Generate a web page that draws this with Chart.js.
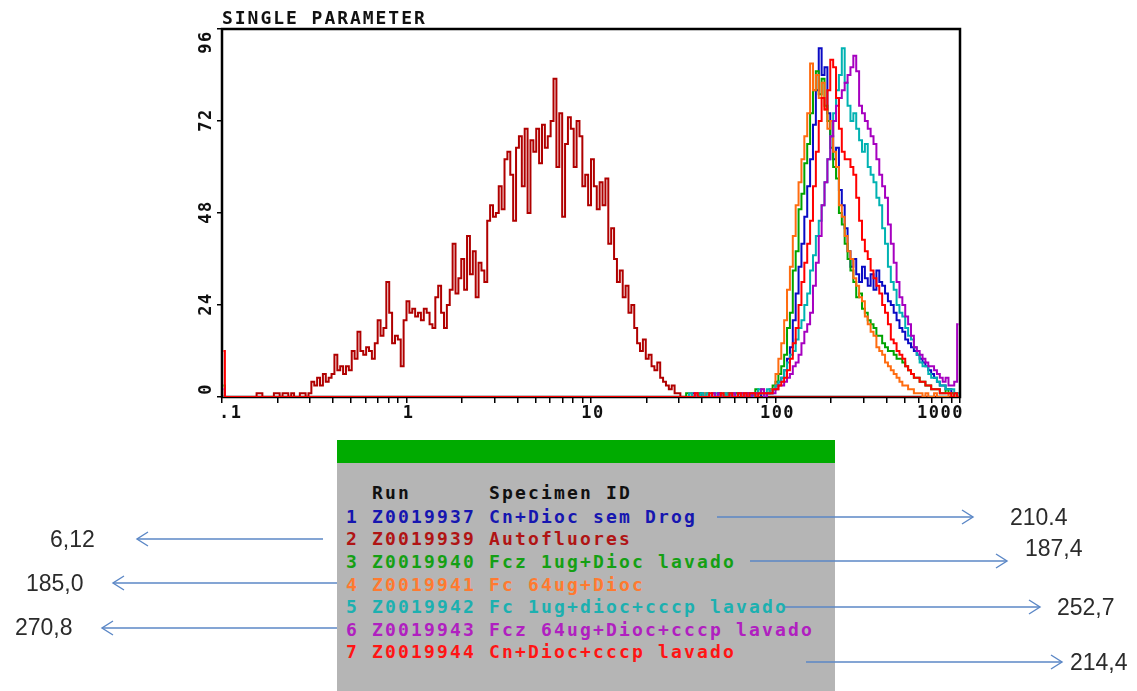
<!DOCTYPE html>
<html>
<head>
<meta charset="utf-8">
<title>Single parameter</title>
<script src="https://cdn.jsdelivr.net/npm/chart.js@4.4.1/dist/chart.umd.min.js"></script>
<style>
  body { margin: 0; background: #fff; }
  #page { position: relative; width: 1137px; height: 691px; overflow: hidden; background: #fff; }
  #histo { position: absolute; left: 0; top: 0; }
  .mono { position: absolute; font-family: "DejaVu Sans Mono", monospace; font-weight: bold; font-size: 18px; line-height: 20px; white-space: pre; }
  #title { left: 222px; top: 8px; letter-spacing: 1.96px; color: #111; }
  #panel { position: absolute; left: 337px; top: 440px; width: 498px; height: 260px; background: #b5b5b5; }
  #panel .bar { height: 23px; background: #00ab00; }
  .row { letter-spacing: 2.16px; }
  #notes { position: absolute; left: 0; top: 0; }
  .mean { position: absolute; font-family: "Liberation Sans", Arial, sans-serif; font-size: 23px; line-height: 26px; color: #2b2b2b; }
</style>
</head>
<body>
<div id="page">
  <canvas id="histo" width="1137" height="691"></canvas>
  <div id="title" class="mono">SINGLE PARAMETER</div>
  <div id="panel"><div class="bar"></div></div>
  <div id="rows"></div>
  <svg id="notes" width="1137" height="691"></svg>
  <div id="means"></div>
</div>
<script>
// Runs in the overlay (legend order)
const runIds = ['Z0019937', 'Z0019939', 'Z0019940', 'Z0019941', 'Z0019942', 'Z0019943', 'Z0019944'];
const specimenIds = [
    'Cn+Dioc sem Drog',
    'Autofluores',
    'Fcz 1ug+Dioc lavado',
    'Fc 64ug+Dioc',
    'Fc 1ug+dioc+cccp lavado',
    'Fcz 64ug+Dioc+cccp lavado',
    'Cn+Dioc+cccp lavado'
];
const meanLabels = ['210.4', '6,12', '187,4', '185,0', '252,7', '270,8', '214,4'];

// Histogram counts, 64 channels per decade starting at 0.1
const startChannel = [160, 12, 160, 160, 160, 160, 160];
const edgeCounts = [0, 0, 3, 0, 0, 2, 12]; // channel 0 pile-up

const cnSemDrog = [
    0, 0, 0, 1, 0, 0, 1, 0, 0, 0, 1, 0, 1, 0, 0, 1,
    0, 1, 1, 0, 1, 0, 1, 1, 0, 1, 1, 0, 0, 1, 1, 2,
    3, 4, 5, 7, 10, 13, 20, 27, 34, 40, 47, 55, 62, 71, 80, 91,
    84, 86, 74, 68, 62, 65, 54, 50, 44, 38, 34, 36, 32, 30, 34, 31,
    29, 32, 28, 33, 30, 29, 27, 25, 24, 22, 20, 18, 17, 15, 14, 13,
    12, 11, 10, 9, 8, 7, 6, 5, 4, 3, 3, 2, 2, 1, 1, 1
];
const autofluores = [
    1, 1, 0, 0, 0, 0, 1, 1, 0, 1, 1, 0, 1, 0, 0, 1, 1, 0, 1,
    4, 3, 5, 3, 6, 4, 5,
    6, 11, 7, 8, 6, 8, 7,
    12, 10, 17, 12, 11, 13, 12, 10,
    14, 20, 16, 18, 30, 22, 14, 16, 15, 8, 20, 25,
    22, 23, 21, 22, 20, 23, 22, 19,
    18, 26, 29, 22, 18, 24, 28, 40, 27,
    31, 36, 28, 42, 32, 38, 26, 35, 33,
    30, 46, 50, 47, 48,
    55, 49, 62, 64, 58, 46, 65,
    68, 55, 70, 48, 67,
    64, 70, 61, 71, 65, 68, 72,
    83, 60, 74, 47,
    66, 73, 70, 60, 72, 68,
    55, 58, 50, 62, 55, 49, 56, 50,
    57, 40, 44,
    36, 30, 33, 26, 29, 22, 24,
    18, 14, 12, 15, 10, 11, 8, 7, 9, 5, 4,
    3, 2, 3, 1, 1, 0, 0
];
const fcz1ug = [
    0, 1, 0, 0, 0, 1, 0, 0, 1, 0, 0, 0, 1, 0, 1, 0,
    1, 0, 1, 1, 0, 1, 1, 0, 1, 2, 1, 1, 1, 1, 2, 3,
    4, 6, 8, 11, 18, 22, 33, 38, 49, 53, 61, 66, 74, 80, 85, 79,
    83, 76, 72, 65, 60, 57, 48, 45, 40, 36, 33, 30, 26, 27, 23, 22,
    20, 19, 18, 16, 16, 14, 13, 12, 12, 11, 10, 10, 9, 8, 7, 6,
    5, 5, 4, 4, 3, 3, 2, 2, 2, 1, 1, 2, 1, 1, 0, 1
];
const fc64ug = [
    0, 0, 1, 0, 0, 0, 0, 1, 0, 0, 1, 0, 0, 0, 1, 0,
    0, 1, 0, 1, 1, 0, 1, 1, 1, 0, 1, 2, 1, 1, 2, 2,
    6, 10, 14, 20, 28, 34, 42, 50, 56, 62, 68, 74, 87, 80, 84, 78,
    82, 75, 70, 72, 64, 60, 50, 47, 42, 38, 36, 31, 29, 26, 25, 21,
    19, 17, 16, 13, 12, 11, 9, 8, 7, 6, 5, 4, 3, 3, 2, 2,
    1, 1, 1, 0, 1, 0, 0, 1, 0, 0, 0, 0, 1, 0, 0, 0
];
const fc1ugCccp = [
    0, 0, 1, 0, 0, 0, 1, 0, 1, 0, 0, 1, 0, 0, 1, 0,
    1, 1, 0, 1, 0, 1, 1, 1, 0, 1, 2, 1, 1, 2, 1, 2,
    3, 4, 5, 7, 9, 11, 12, 15, 18, 20, 24, 27, 33, 37, 42, 46,
    50, 56, 62, 68, 74, 80, 84, 91, 82, 76, 72, 74, 70, 67, 64, 66,
    60, 58, 56, 52, 50, 44, 40, 34, 30, 28, 24, 22, 21, 18, 16, 15,
    13, 11, 9, 8, 8, 6, 5, 5, 4, 3, 3, 2, 2, 2, 1, 1
];
const fcz64ugCccp = [
    0, 0, 0, 0, 1, 0, 0, 0, 0, 0, 1, 0, 1, 0, 0, 0,
    0, 1, 0, 1, 1, 0, 1, 0, 1, 1, 1, 2, 0, 1, 1, 1,
    2, 3, 3, 4, 5, 6, 8, 9, 11, 14, 17, 19, 22, 29, 35, 42,
    50, 56, 62, 68, 72, 76, 78, 80, 82, 84, 86, 89, 85, 76, 74, 72,
    70, 68, 66, 62, 58, 55, 52, 45, 40, 35, 30, 26, 24, 21, 19, 16,
    13, 12, 11, 10, 9, 8, 8, 7, 6, 5, 4, 5, 3, 3, 4, 19
];
const cnCccp = [
    0, 0, 0, 0, 1, 0, 0, 0, 0, 1, 0, 0, 0, 1, 0, 0,
    1, 0, 0, 1, 0, 1, 0, 1, 1, 0, 1, 1, 1, 1, 1, 2,
    2, 3, 4, 5, 7, 10, 14, 18, 24, 30, 35, 40, 46, 55, 64, 72,
    78, 75, 80, 88, 86, 78, 70, 64, 62, 62, 60, 58, 52, 46, 41, 38,
    36, 33, 31, 29, 27, 24, 22, 19, 15, 14, 12, 11, 10, 8, 7, 6,
    5, 5, 4, 4, 3, 3, 2, 2, 2, 1, 1, 1, 1, 0, 1, 0
];
const seriesCounts = [cnSemDrog, autofluores, fcz1ug, fc64ug, fc1ugCccp, fcz64ugCccp, cnCccp];

// Axis ticks
const decadeStarts = [0.1, 1, 10, 100];
const xLabels = ['.1', '1', '10', '100', '1000'];
const xLabelValues = [0.1, 1, 10, 100, 1000];
const yTicks = [0, 24, 48, 72, 96];

const lineColors = ['#0a0ac4', '#b00000', '#00a400', '#ff6c10', '#00b2b2', '#a600c0', '#ff0000'];
const textColors = ['#1616b0', '#b01414', '#14a014', '#ff7a30', '#1cb0b0', '#b020c0', '#ff1414'];

const CHANNELS = 256;
const PER_DECADE = 64;

function channelCenter(ch) {
    return 0.1 * Math.pow(10, (ch + 0.5) / PER_DECADE);
}

function histogramPoints(idx) {
    const counts = seriesCounts[idx];
    const start = startChannel[idx];
    const pts = [];
    for (let ch = 0; ch < CHANNELS; ch++) {
        let y = 0;
        if (ch === 0) y = edgeCounts[idx];
        else if (ch >= start && ch < start + counts.length) y = counts[ch - start];
        pts.push({ x: channelCenter(ch), y: y });
    }
    return pts;
}

const xTickValues = [];
decadeStarts.forEach(d => {
    for (let m = 1; m <= 9; m++) xTickValues.push(m * d);
});
xTickValues.push(1000);

// Frame, and the rotated / clamped tick labels of the old plotter
const frameAndLabels = {
    id: 'frameAndLabels',
    beforeDatasetsDraw(chart) {
        const { ctx, chartArea: a } = chart;
        ctx.save();
        ctx.strokeStyle = '#000';
        ctx.lineWidth = 2.5;
        ctx.strokeRect(a.left, a.top, a.right - a.left, a.bottom - a.top);
        ctx.restore();
    },
    afterDraw(chart) {
        const { ctx, chartArea: a } = chart;
        const xs = chart.scales.x;
        const ys = chart.scales.y;
        ctx.save();
        ctx.fillStyle = '#111';
        ctx.font = 'bold 17px "DejaVu Sans Mono", monospace';
        ctx.textBaseline = 'middle';
        if ('letterSpacing' in ctx) ctx.letterSpacing = '1.5px';

        xLabels.forEach((label, i) => {
            const px = xs.getPixelForValue(xLabelValues[i]);
            if (i === 0) {
                ctx.textAlign = 'left';
                ctx.fillText(label, px - 3, a.bottom + 17);
            } else if (i === xLabels.length - 1) {
                ctx.textAlign = 'right';
                ctx.fillText(label, px + 4, a.bottom + 17);
            } else {
                ctx.textAlign = 'center';
                ctx.fillText(label, px + 2, a.bottom + 17);
            }
        });

        ctx.textAlign = 'center';
        yTicks.forEach(v => {
            let py = ys.getPixelForValue(v);
            py = Math.min(Math.max(py, a.top + 14), a.bottom - 7);
            ctx.save();
            ctx.translate(a.left - 15, py);
            ctx.rotate(-Math.PI / 2);
            ctx.fillText(String(v), 1, 0);
            ctx.restore();
        });
        ctx.restore();
    }
};

const ctx = document.getElementById('histo').getContext('2d');
new Chart(ctx, {
    type: 'line',
    data: {
        datasets: seriesCounts.map((c, i) => ({
            label: specimenIds[i],
            data: histogramPoints(i),
            borderColor: lineColors[i],
            borderWidth: 2,
            stepped: 'middle',
            pointRadius: 0,
            fill: false,
            order: seriesCounts.length - i
        }))
    },
    options: {
        responsive: false,
        animation: false,
        events: [],
        layout: { padding: { left: 222, top: 29, right: 177, bottom: 294 } },
        plugins: { legend: { display: false }, tooltip: { enabled: false } },
        scales: {
            x: {
                type: 'logarithmic',
                min: 0.1,
                max: 1000,
                border: { display: false },
                grid: { drawOnChartArea: false, drawTicks: true, tickLength: 6, color: '#000', lineWidth: 1.5 },
                ticks: { display: false },
                afterBuildTicks: s => { s.ticks = xTickValues.map(v => ({ value: v })); },
                afterFit: s => { s.height = 0; }
            },
            y: {
                min: 0,
                max: 96,
                border: { display: false },
                grid: { drawOnChartArea: false, drawTicks: true, tickLength: 5, color: '#000', lineWidth: 1.5 },
                ticks: { display: false },
                afterBuildTicks: s => { s.ticks = yTicks.map(v => ({ value: v })); },
                afterFit: s => { s.width = 0; }
            }
        }
    },
    plugins: [frameAndLabels]
});

// Run table under the plot
const rowsEl = document.getElementById('rows');
const rowLeft = 346;
function addRow(text, color, centerY) {
    const el = document.createElement('div');
    el.className = 'mono row';
    el.style.left = rowLeft + 'px';
    el.style.top = (centerY - 10) + 'px';
    el.style.color = color;
    el.textContent = text;
    rowsEl.appendChild(el);
}
addRow('  Run      Specimen ID', '#111', 493);
runIds.forEach((run, i) => {
    addRow((i + 1) + ' ' + run + ' ' + specimenIds[i], textColors[i], 516.8 + i * 22.6);
});

// Mean annotations with arrows
const notePlacement = [
    { from: 717, to: 973, y: 517, textX: 1010, textY: 517 },
    { from: 323, to: 137, y: 539, textX: 50, textY: 539 },
    { from: 750, to: 1007, y: 561, textX: 1025, textY: 548 },
    { from: 337, to: 113, y: 583, textX: 26, textY: 583 },
    { from: 785, to: 1040, y: 607, textX: 1057, textY: 607 },
    { from: 337, to: 102, y: 628, textX: 15, textY: 627 },
    { from: 806, to: 1062, y: 662, textX: 1070, textY: 662 }
];
const svg = document.getElementById('notes');
const NS = 'http://www.w3.org/2000/svg';
const meansEl = document.getElementById('means');
notePlacement.forEach((n, i) => {
    const line = document.createElementNS(NS, 'line');
    line.setAttribute('x1', n.from);
    line.setAttribute('x2', n.to);
    line.setAttribute('y1', n.y);
    line.setAttribute('y2', n.y);
    line.setAttribute('stroke', '#5b87c6');
    line.setAttribute('stroke-width', '1.4');
    svg.appendChild(line);
    const dir = n.to > n.from ? -1 : 1;
    const head = document.createElementNS(NS, 'polyline');
    head.setAttribute('points', (n.to + dir * 11) + ',' + (n.y - 7) + ' ' + n.to + ',' + n.y + ' ' + (n.to + dir * 11) + ',' + (n.y + 7));
    head.setAttribute('fill', 'none');
    head.setAttribute('stroke', '#5b87c6');
    head.setAttribute('stroke-width', '1.4');
    svg.appendChild(head);

    const label = document.createElement('div');
    label.className = 'mean';
    label.style.left = n.textX + 'px';
    label.style.top = (n.textY - 13) + 'px';
    label.textContent = meanLabels[i];
    meansEl.appendChild(label);
});
</script>
</body>
</html>
